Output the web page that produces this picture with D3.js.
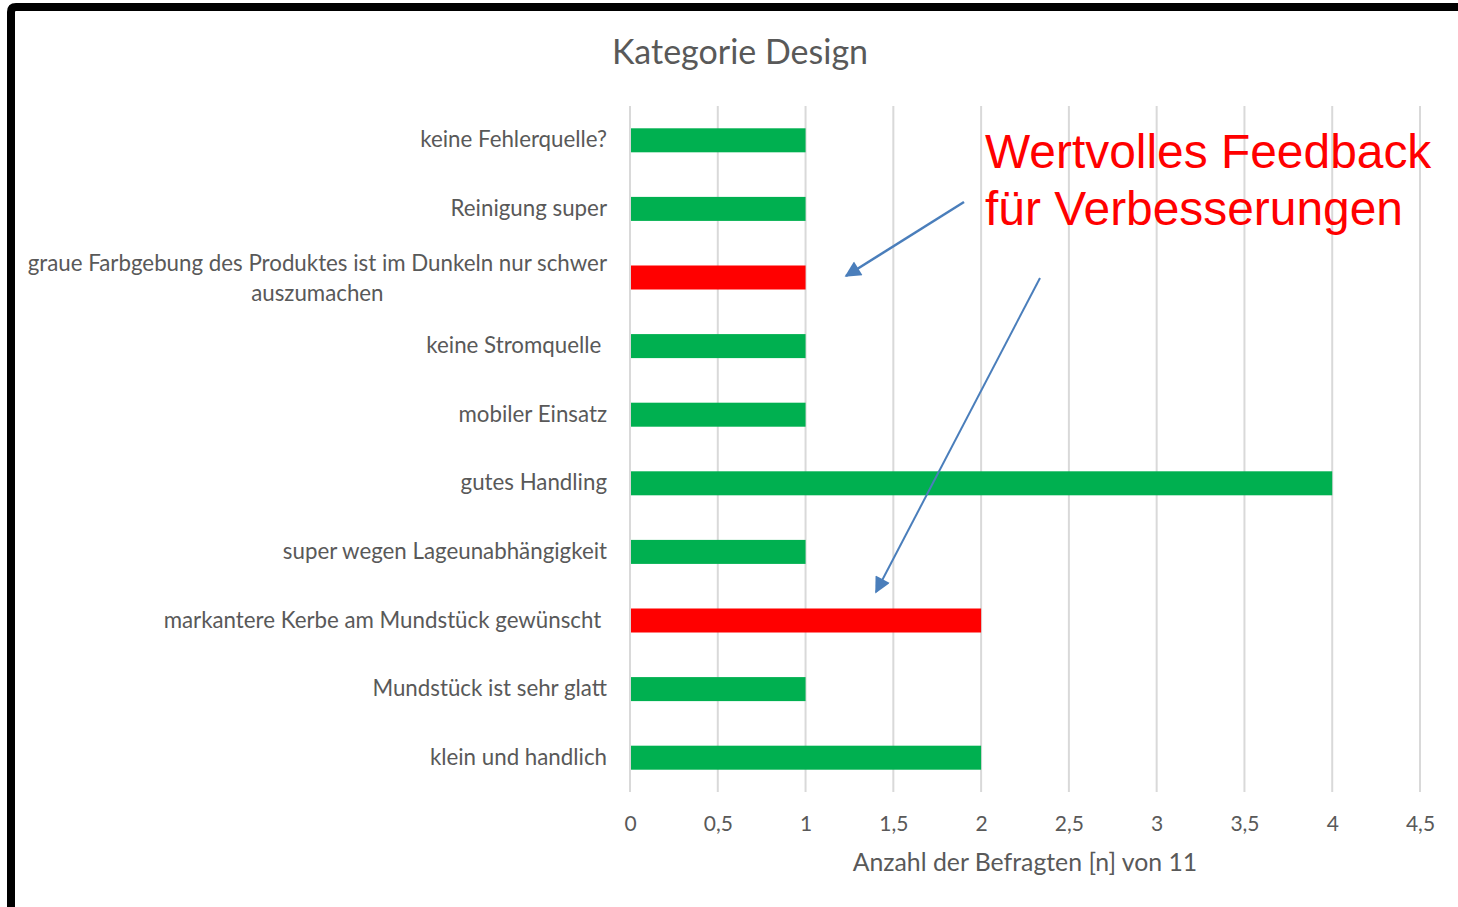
<!DOCTYPE html>
<html>
<head>
<meta charset="utf-8">
<script src="https://cdn.jsdelivr.net/npm/d3@7"></script>
<style>
  body { margin: 0; background: #fff; }
  text { font-family: Lato, "Open Sans", sans-serif; }
</style>
</head>
<body>
<div class="chart"></div>
<script>
var categories = [
  "keine Fehlerquelle?",
  "Reinigung super",
  "graue Farbgebung des Produktes ist im Dunkeln nur schwer auszumachen",
  "keine Stromquelle ",
  "mobiler Einsatz",
  "gutes Handling",
  "super wegen Lageunabhängigkeit",
  "markantere Kerbe am Mundstück gewünscht ",
  "Mundstück ist sehr glatt",
  "klein und handlich"
];
var values = [1, 1, 1, 1, 1, 4, 1, 2, 1, 2];
var negative = [false, false, true, false, false, false, false, true, false, false];
var tickValues = [0, 0.5, 1, 1.5, 2, 2.5, 3, 3.5, 4, 4.5];

var svgWidth = 1458;
var svgHeight = 907;

var svg = d3.select(".chart")
  .append("svg")
  .attr("width", svgWidth)
  .attr("height", svgHeight);

// frame
svg.append("path")
  .attr("d", "M11," + (svgHeight + 10) + " L11,12 Q11,7 16,7 L" + (svgWidth + 10) + ",7")
  .attr("fill", "none")
  .attr("stroke", "#000")
  .attr("stroke-width", 8);

var x = d3.scaleLinear().domain([0, 4.5]).range([630, 1420]);
var y = d3.scaleBand().domain(categories).range([106, 792]).paddingInner(0.65).paddingOuter(0.325);

// grid
svg.append("g").selectAll("line")
  .data(tickValues)
  .enter().append("line")
  .attr("x1", function(d) { return x(d); })
  .attr("x2", function(d) { return x(d); })
  .attr("y1", 106)
  .attr("y2", 792)
  .attr("stroke", "#d9d9d9")
  .attr("stroke-width", 2);

// bars
svg.append("g").selectAll("rect")
  .data(categories)
  .enter().append("rect")
  .attr("x", x(0) + 1)
  .attr("y", function(d) { return y(d); })
  .attr("width", function(d, i) { return x(values[i]) - x(0) - 1; })
  .attr("height", y.bandwidth())
  .attr("fill", function(d, i) { return negative[i] ? "#ff0000" : "#00b050"; });

// x axis
var xAxis = d3.axisBottom(x)
  .tickValues(tickValues)
  .tickSize(0)
  .tickPadding(0)
  .tickFormat(function(d) { return String(d).replace(".", ","); });

var gx = svg.append("g")
  .attr("transform", "translate(0,831)")
  .call(xAxis);
gx.select(".domain").remove();
gx.selectAll("text")
  .attr("dy", 0)
  .attr("font-size", 21)
  .attr("fill", "#595959")
  .style("font-family", "Lato, sans-serif");

// y labels
var labels = svg.append("g");
categories.forEach(function(c, i) {
  var cy = y(c) + y.bandwidth() / 2;
  if (c.length > 50) {
    var t1 = labels.append("text")
      .attr("x", 607)
      .attr("y", cy - 7)
      .attr("text-anchor", "end")
      .attr("font-size", 22.3)
      .attr("fill", "#595959")
      .text("graue Farbgebung des Produktes ist im Dunkeln nur schwer");
    var w = t1.node().getComputedTextLength();
    labels.append("text")
      .attr("x", 607 - w / 2)
      .attr("y", cy + 23)
      .attr("text-anchor", "middle")
      .attr("font-size", 22.3)
      .attr("fill", "#595959")
      .text("auszumachen");
  } else {
    labels.append("text")
      .attr("x", 607)
      .attr("y", cy + 7)
      .attr("text-anchor", "end")
      .attr("font-size", 22.3)
      .attr("fill", "#595959")
      .style("white-space", "pre")
      .text(c);
  }
});

// title
svg.append("text")
  .attr("x", 740)
  .attr("y", 64)
  .attr("text-anchor", "middle")
  .attr("font-size", 34)
  .attr("fill", "#595959")
  .text("Kategorie Design");

// axis title
svg.append("text")
  .attr("x", 1025)
  .attr("y", 871)
  .attr("text-anchor", "middle")
  .attr("font-size", 24.8)
  .attr("fill", "#595959")
  .text("Anzahl der Befragten [n] von 11");

// annotation
var note = svg.append("text")
  .attr("fill", "#ff0000")
  .attr("font-size", 47.9)
  .style("font-family", "'Liberation Sans', Arial, sans-serif");
note.append("tspan").attr("x", 985).attr("y", 168).text("Wertvolles Feedback");
note.append("tspan").attr("x", 985).attr("y", 225).text("für Verbesserungen");

svg.append("defs").append("marker")
  .attr("id", "arrow")
  .attr("viewBox", "0 0 10 10")
  .attr("refX", 9)
  .attr("refY", 5)
  .attr("markerWidth", 18)
  .attr("markerHeight", 16)
  .attr("markerUnits", "userSpaceOnUse")
  .attr("orient", "auto")
  .append("path")
  .attr("d", "M0,0 L10,5 L0,10 Z")
  .attr("fill", "#4a7ebb");

svg.append("line")
  .attr("x1", 964).attr("y1", 202)
  .attr("x2", 846).attr("y2", 276)
  .attr("stroke", "#4a7ebb")
  .attr("stroke-width", 2.5)
  .attr("marker-end", "url(#arrow)");

svg.append("line")
  .attr("x1", 1040).attr("y1", 278)
  .attr("x2", 876).attr("y2", 592)
  .attr("stroke", "#4a7ebb")
  .attr("stroke-width", 2)
  .attr("marker-end", "url(#arrow)");
</script>
</body>
</html>
